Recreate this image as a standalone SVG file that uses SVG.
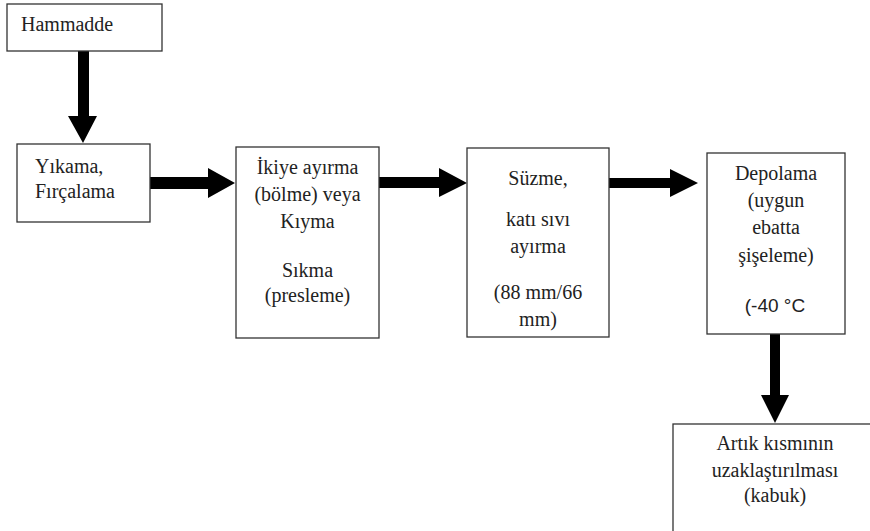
<svg xmlns="http://www.w3.org/2000/svg" width="870" height="531" viewBox="0 0 870 531">
<style>
.box{fill:#fff;stroke:#333;stroke-width:1.3}
.t{font-family:"Liberation Serif","Times New Roman",serif;font-size:20px;fill:#222}
.c{text-anchor:middle}
.s{font-family:"Liberation Sans",Arial,sans-serif;font-size:19px;fill:#222}
.arr{fill:#000}
</style>
<rect width="870" height="531" fill="#fff"/>
<g id="connectors">
<polygon class="arr" points="78,51 89,51 89,116 97,116 83,143 68,116 78,116"/>
<polygon class="arr" points="150,177 208,177 208,168 235,183 208,198 208,189 150,189"/>
<polygon class="arr" points="379,177 439,177 439,168 467,183 439,197 439,188 379,188"/>
<polygon class="arr" points="609,178 670,178 670,169 698,183 670,197 670,188 609,188"/>
<polygon class="arr" points="770,334 780,334 780,395 789,395 775,423 761,395 770,395"/>
</g>
<g id="hammadde">
<rect class="box" x="7" y="4" width="155" height="47"/>
<text class="t" x="21" y="31">Hammadde</text>
</g>
<g id="yikama">
<rect class="box" x="17" y="144" width="133" height="78"/>
<text class="t" x="35" y="173">Yıkama,</text>
<text class="t" x="35" y="198">Fırçalama</text>
</g>
<g id="ayirma">
<rect class="box" x="236" y="147" width="143" height="191"/>
<text class="t c" x="307.5" y="174">İkiye ayırma</text>
<text class="t c" x="307.5" y="201">(bölme) veya</text>
<text class="t c" x="307.5" y="228">Kıyma</text>
<text class="t c" x="307.5" y="277">Sıkma</text>
<text class="t c" x="307.5" y="302">(presleme)</text>
</g>
<g id="suzme">
<rect class="box" x="467" y="148" width="142" height="189"/>
<text class="t c" x="538" y="185">Süzme,</text>
<text class="t c" x="538" y="226">katı sıvı</text>
<text class="t c" x="538" y="253">ayırma</text>
<text class="t c" x="538" y="299">(88 mm/66</text>
<text class="t c" x="538" y="326">mm)</text>
</g>
<g id="depolama">
<rect class="box" x="707" y="153" width="138" height="181"/>
<text class="t c" x="776" y="180">Depolama</text>
<text class="t c" x="776" y="207">(uygun</text>
<text class="t c" x="776" y="234">ebatta</text>
<text class="t c" x="776" y="262">şişeleme)</text>
<text class="s c" x="775" y="312">(-40 °C</text>
</g>
<g id="artik">
<rect class="box" x="673" y="424" width="210" height="130"/>
<text class="t c" x="775" y="450">Artık kısmının</text>
<text class="t c" x="775" y="477">uzaklaştırılması</text>
<text class="t c" x="775" y="502">(kabuk)</text>
</g>
</svg>
